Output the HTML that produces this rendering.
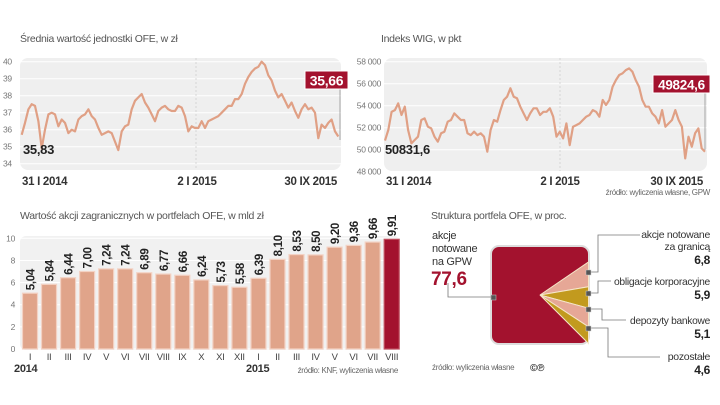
<!DOCTYPE html>
<html><head><meta charset="utf-8">
<style>
html,body{margin:0;padding:0;background:#fff;}
svg{display:block;font-family:"Liberation Sans Narrow","Liberation Sans",sans-serif;letter-spacing:-0.3px;}
.t{font-size:10.5px;fill:#555;}
.ax{font-size:8.5px;fill:#777;}
.dt{font-size:11.5px;font-weight:bold;fill:#333;}
.src{font-size:8px;fill:#666;}
</style></head>
<body>
<svg id="c" width="720" height="405" viewBox="0 0 720 405" xmlns="http://www.w3.org/2000/svg">
<text class="t" x="20" y="42">Średnia wartość jednostki OFE, w zł</text>
<rect x="20" y="58" width="321" height="112" rx="8" fill="#efefef"/>
<g id="g1"></g>
<text class="dt" x="22" y="185">31 I 2014</text>
<text class="dt" x="197" y="185" text-anchor="middle">2 I 2015</text>
<text class="dt" x="337" y="185" text-anchor="end">30 IX 2015</text>
<text x="23" y="154" font-size="13" font-weight="bold" fill="#222">35,83</text>
<line x1="340" y1="88" x2="340" y2="140" stroke="#888" stroke-width="0.7"/>
<rect x="305" y="71" width="43" height="18" fill="#a3122e" stroke="#fff"/>
<text x="326.5" y="85.5" text-anchor="middle" font-size="14" font-weight="bold" fill="#fff">35,66</text>

<text class="t" x="381" y="42">Indeks WIG, w pkt</text>
<rect x="384" y="58" width="323" height="113" rx="8" fill="#efefef"/>
<g id="g2"></g>
<text class="dt" x="386" y="185">31 I 2014</text>
<text class="dt" x="560" y="185" text-anchor="middle">2 I 2015</text>
<text class="dt" x="703" y="185" text-anchor="end">30 IX 2015</text>
<text class="src" x="710" y="195" text-anchor="end">źródło: wyliczenia własne, GPW</text>
<text x="385" y="154" font-size="13" font-weight="bold" fill="#222">50831,6</text>
<line x1="705" y1="92" x2="705" y2="150" stroke="#888" stroke-width="0.7"/>
<rect x="653" y="75" width="57" height="18" fill="#a3122e" stroke="#fff"/>
<text x="681.5" y="89.5" text-anchor="middle" font-size="13.5" font-weight="bold" fill="#fff">49824,6</text>

<text class="t" x="20" y="219">Wartość akcji zagranicznych w portfelach OFE, w mld zł</text>
<rect x="20" y="236" width="380" height="114" rx="6" fill="#f1f1f1"/>
<g id="g3"></g>
<text x="14" y="372" font-size="11" font-weight="bold" fill="#333">2014</text>
<text x="246" y="372" font-size="11" font-weight="bold" fill="#333">2015</text>
<text class="src" x="398" y="373" text-anchor="end">źródło: KNF, wyliczenia własne</text>

<text class="t" x="431" y="219">Struktura portfela OFE, w proc.</text>
<text font-size="11" fill="#333"><tspan x="432" y="239">akcje</tspan><tspan x="432" y="252">notowane</tspan><tspan x="432" y="265">na GPW</tspan></text>
<text x="431" y="285" font-size="19" font-weight="bold" fill="#a3122e">77,6</text>
<rect x="491" y="246" width="98" height="98" rx="8" fill="#a3122e" stroke="#ddd" stroke-width="2"/>
<g id="g4"></g>
<polyline points="448,283 448,297 493,297" fill="none" stroke="#777" stroke-width="0.8"/>
<rect x="491" y="295" width="5" height="5" fill="#555" stroke="#ccc" stroke-width="0.5"/>
<polyline points="589,272 598,272 598,235 640,235" fill="none" stroke="#777" stroke-width="0.8"/>
<polyline points="589,293 598,293 598,281 611,281" fill="none" stroke="#777" stroke-width="0.8"/>
<polyline points="589,309 602,309 602,320 626,320" fill="none" stroke="#777" stroke-width="0.8"/>
<polyline points="589,328 608,328 608,357 660,357" fill="none" stroke="#777" stroke-width="0.8"/>
<g fill="#555" stroke="#ccc" stroke-width="0.5">
<rect x="586" y="270" width="5" height="5"/><rect x="586" y="291" width="5" height="5"/><rect x="586" y="307" width="5" height="5"/><rect x="586" y="326" width="5" height="5"/>
</g>
<g font-size="10.5" fill="#333" text-anchor="end">
<text x="710" y="238">akcje notowane</text>
<text x="710" y="250">za granicą</text>
<text x="710" y="264" font-weight="bold" font-size="12" fill="#222">6,8</text>
<text x="710" y="285" textLength="96" lengthAdjust="spacingAndGlyphs">obligacje korporacyjne</text>
<text x="710" y="299" font-weight="bold" font-size="12" fill="#222">5,9</text>
<text x="710" y="324" textLength="80" lengthAdjust="spacingAndGlyphs">depozyty bankowe</text>
<text x="710" y="338" font-weight="bold" font-size="12" fill="#222">5,1</text>
<text x="710" y="360">pozostałe</text>
<text x="710" y="374" font-weight="bold" font-size="12" fill="#222">4,6</text>
</g>
<text class="src" x="432" y="370">źródło: wyliczenia własne</text>
<text x="530" y="371" font-size="10" font-weight="bold" fill="#333">©℗</text>
</svg>
<script>
const ofeValues=[35.7,36.4,37.2,37.5,37.4,36.5,34.9,36.0,36.9,37.0,36.9,36.2,36.6,36.4,35.8,36.0,35.9,36.6,36.8,36.9,37.2,36.8,36.6,36.1,35.7,35.8,35.9,35.8,35.3,34.8,35.9,36.2,36.3,37.2,37.7,37.9,38.1,37.6,37.3,36.9,36.5,37.1,37.3,37.4,37.2,37.1,37.1,37.4,37.3,36.8,35.9,36.2,36.1,36.1,36.5,36.1,36.5,36.6,36.7,36.8,37.0,37.2,37.4,37.4,37.8,37.8,38.1,38.7,39.1,39.4,39.6,39.7,40.0,39.8,39.2,38.9,38.3,37.9,38.1,37.7,37.3,37.6,37.1,36.7,37.2,37.5,37.2,37.3,37.0,35.5,36.3,36.1,36.4,36.6,35.9,35.6];
const ofeTicks=[34,35,36,37,38,39,40];
const wigValues=[50830,51790,53450,53600,54210,53150,53910,51790,50580,50880,51180,52700,52850,52090,51940,51180,50730,51490,51640,52550,52700,53300,53000,52700,52700,51490,51330,51640,51330,51490,51180,49820,51790,52700,52550,53600,54520,54820,55580,54820,54670,53910,53300,52700,53300,53760,53760,53150,53450,53450,53760,53000,51180,51640,51030,52390,50420,52090,52240,52390,52700,53000,53150,53600,53450,53000,54520,54060,54520,55730,56330,56790,56940,57240,57390,57090,56330,55730,54520,53910,53910,53300,53000,52390,53600,52090,52390,52700,53600,52700,52090,49210,51180,50270,51490,51940,50120,49820];
const wigTicks=[48000,50000,52000,54000,56000,58000];
const wigTickLabels=["48 000","50 000","52 000","54 000","56 000","58 000"];
const barMonths=["I","II","III","IV","V","VI","VII","VIII","IX","X","XI","XII","I","II","III","IV","V","VI","VII","VIII"];
const barValues=[5.04,5.84,6.44,7.00,7.24,7.24,6.89,6.77,6.66,6.24,5.73,5.58,6.39,8.10,8.53,8.50,9.20,9.36,9.66,9.91];
const barTicks=[0,2,4,6,8,10];
const structNames=["akcje-gpw","akcje-zagranica","obligacje","depozyty","pozostale"];
const structValues=[77.6,6.8,5.9,5.1,4.6];

const NS="http://www.w3.org/2000/svg";
function mk(tag,attrs,parent,txt){const e=document.createElementNS(NS,tag);for(const k in attrs)e.setAttribute(k,attrs[k]);if(txt!==undefined)e.textContent=txt;parent.appendChild(e);return e;}
const fmt=v=>v.toFixed(2).replace('.',',');

const g1=document.getElementById('g1');
const x1=i=>21.7+i*(338.3-21.7)/(ofeValues.length-1);
const y1=v=>61.7+(40-v)*17;
ofeTicks.forEach(t=>{
  const l=mk('line',{x1:20,x2:341,y1:y1(t),y2:y1(t),stroke:'#fff','stroke-width':1},g1);
  
  
  const tx=mk('text',{x:3,y:y1(t)+3,class:'ax'},g1,String(t));
  
  
});
mk('line',{x1:196,x2:196,y1:58,y2:170,stroke:'#ccc','stroke-width':0.7,'stroke-dasharray':'2,2'},g1);
const p1=mk('polyline',{points:ofeValues.map((v,i)=>x1(i).toFixed(1)+','+y1(v).toFixed(1)).join(' '),fill:'none',stroke:'#e0a085','stroke-width':2.2,'stroke-linejoin':'round'},g1);



const g2=document.getElementById('g2');
const x2=i=>385+i*(705-385)/(wigValues.length-1);
const y2=v=>61.7+(58000-v)/2000*22;
wigTicks.forEach((t,k)=>{
  const l=mk('line',{x1:384,x2:707,y1:y2(t),y2:y2(t),stroke:'#fff','stroke-width':1},g2);
  
  
  const tx=mk('text',{x:381,y:y2(t)+3,class:'ax','text-anchor':'end'},g2,wigTickLabels[k]);
  
  
});
mk('line',{x1:560,x2:560,y1:58,y2:171,stroke:'#ccc','stroke-width':0.7,'stroke-dasharray':'2,2'},g2);
const p2=mk('polyline',{points:wigValues.map((v,i)=>x2(i).toFixed(1)+','+y2(v).toFixed(1)).join(' '),fill:'none',stroke:'#e0a085','stroke-width':2.2,'stroke-linejoin':'round'},g2);



const g3=document.getElementById('g3');
const yb=v=>349-v*11.07;
const xb=i=>30+i*(391.7-30)/(barValues.length-1);
barTicks.forEach(t=>{
  const l=mk('line',{x1:20,x2:400,y1:yb(t),y2:yb(t),stroke:'#fff','stroke-width':1},g3);
  
  
  const tx=mk('text',{x:15,y:yb(t)+3,class:'ax','text-anchor':'end'},g3,String(t));
  
  
});
barValues.forEach((v,i)=>{
  const last=i===barValues.length-1;
  const r=mk('rect',{x:xb(i)-7.5,y:yb(v),width:15,height:349-yb(v),fill:last?'#a3122e':'#e0a48a',stroke:last?'#c05060':'#f3d2c4','stroke-width':1.2},g3);
  
  
  const tx=mk('text',{x:0,y:0,'font-size':'11.5','font-weight':'bold',fill:'#222',transform:'translate('+(xb(i)+4.5)+','+(yb(v)-3)+') rotate(-90)'},g3,fmt(v));
  
  
  const m=mk('text',{x:xb(i),y:360,'font-size':'9.5',fill:'#444','text-anchor':'middle'},g3,barMonths[i]);
  
  
});

const g4=document.getElementById('g4');
const apex=[540,295];
const wedgeTop=262,wedgeBot=343.5;
const rest=structValues.slice(1);
const restSum=rest.reduce((a,b)=>a+b,0);
let acc=0;
const cols=['#e6a796','#c29a1e','#e6a796','#c29a1e'];
rest.forEach((v,k)=>{
  const ya=wedgeTop+(wedgeBot-wedgeTop)*acc/restSum; acc+=v;
  const yb2=wedgeTop+(wedgeBot-wedgeTop)*acc/restSum;
  const w=mk('polygon',{points:apex.join(',')+' 588.5,'+ya.toFixed(1)+' 588.5,'+yb2.toFixed(1),fill:cols[k],stroke:'#f5e6c8','stroke-width':1},g4);
  
  
});
</script>
</body></html>
